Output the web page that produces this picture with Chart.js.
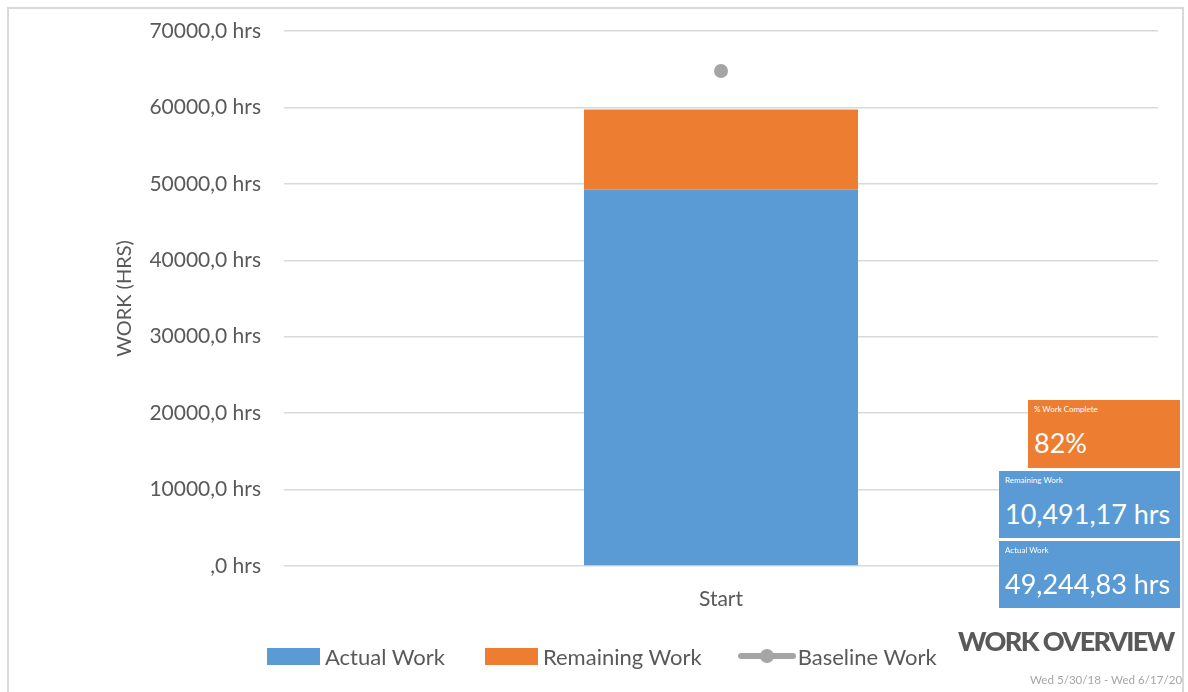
<!DOCTYPE html>
<html>
<head>
<meta charset="utf-8">
<title>Work Overview</title>
<script src="https://cdn.jsdelivr.net/npm/chart.js@4"></script>
<style>
    html, body { margin: 0; padding: 0; background: #fff; }
    body { width: 1188px; height: 692px; position: relative; overflow: hidden; font-family: Lato, "Open Sans", sans-serif; }
    #frame { position: absolute; left: 7px; top: 7px; width: 1177px; height: 700px; border: 2px solid #D9D9D9; box-sizing: border-box; }
    #wrap { position: absolute; left: 0; top: 0; width: 1188px; height: 692px; }
    .legend { position: absolute; top: 644px; left: 267px; height: 24px; display: flex; align-items: center; font-size: 22px; color: #595959; white-space: nowrap; }
    .legend .item { display: flex; align-items: center; }
    .legend .box { width: 53px; height: 17px; margin-right: 5px; }
    .legend .lineMark { position: relative; width: 58px; height: 14px; margin-right: 2px; }
    .legend .lineMark .bar { position: absolute; left: 0; top: 4px; width: 58px; height: 6px; background: #A5A5A5; border-radius: 3px; }
    .legend .lineMark .dot { position: absolute; left: 22px; top: 0; width: 14px; height: 14px; border-radius: 50%; background: #A5A5A5; }
    .card { position: absolute; color: #fff; box-sizing: border-box; padding: 4px 6px; white-space: nowrap; overflow: hidden; }
    .card .cap { font-size: 8px; line-height: 10px; }
    .card .val { font-size: 27px; line-height: 34px; margin-top: 12px; }
    #heading { position: absolute; left: 958px; top: 624px; font-size: 27px; font-weight: 900; color: #595959; letter-spacing: -1.6px; white-space: nowrap; }
    #dates { position: absolute; left: 1030px; top: 673px; font-size: 11.6px; color: #A6A6A6; white-space: nowrap; }
</style>
</head>
<body>
<div id="frame"></div>
<div id="wrap"><canvas id="workChart" width="1188" height="692"></canvas></div>

<div class="legend">
    <div class="item" style="margin-right:40px"><span class="box" style="background:#5B9BD5"></span>Actual Work</div>
    <div class="item" style="margin-right:36px"><span class="box" style="background:#ED7D31"></span>Remaining Work</div>
    <div class="item"><span class="lineMark"><span class="bar"></span><span class="dot"></span></span>Baseline Work</div>
</div>

<div class="card" style="left:1028px;top:400px;width:152px;height:68px;background:#ED7D31">
    <div class="cap">% Work Complete</div>
    <div class="val" id="pctVal"></div>
</div>
<div class="card" style="left:999px;top:471px;width:181px;height:67px;background:#5B9BD5">
    <div class="cap">Remaining Work</div>
    <div class="val" id="remainVal"></div>
</div>
<div class="card" style="left:999px;top:541px;width:181px;height:67px;background:#5B9BD5">
    <div class="cap">Actual Work</div>
    <div class="val" id="actualVal"></div>
</div>
<div id="heading">WORK OVERVIEW</div>
<div id="dates">Wed 5/30/18 - Wed 6/17/20</div>

<script>
// work data (hours)
const categories = ['Start'];
const actualWork = [49244.83];
const remainingWork = [10491.17];
const baselineWork = [64760];
const yTicks = [0, 10000, 20000, 30000, 40000, 50000, 60000, 70000];

const textColor = '#595959';
const gridColor = '#D9D9D9';

// 12345.67 -> "12,345,67"
function fmtHours(v) {
    const parts = v.toFixed(2).split('.');
    return parts[0].replace(/\B(?=(\d{3})+(?!\d))/g, ',') + ',' + parts[1];
}

// axis labels like "70000,0 hrs" and ",0 hrs"
function axisLabel(v) {
    return (v === 0 ? '' : String(v)) + ',0 hrs';
}

const totalAct = actualWork.reduce((a, b) => a + b, 0);
const totalRem = remainingWork.reduce((a, b) => a + b, 0);
document.getElementById('pctVal').textContent = Math.round(totalAct / (totalAct + totalRem) * 100) + '%';
document.getElementById('remainVal').textContent = fmtHours(totalRem) + ' hrs';
document.getElementById('actualVal').textContent = fmtHours(totalAct) + ' hrs';

const ctx = document.getElementById('workChart');
new Chart(ctx, {
    type: 'bar',
    data: {
        labels: categories,
        datasets: [
            {
                label: 'Actual Work',
                data: actualWork,
                backgroundColor: '#5B9BD5',
                stack: 'work',
                order: 2
            },
            {
                label: 'Remaining Work',
                data: remainingWork,
                backgroundColor: '#ED7D31',
                stack: 'work',
                order: 2
            },
            {
                type: 'line',
                label: 'Baseline Work',
                data: baselineWork,
                stack: 'baseline',
                showLine: false,
                pointRadius: 7,
                pointBackgroundColor: '#A5A5A5',
                pointBorderWidth: 0,
                borderColor: '#A5A5A5',
                order: 1
            }
        ]
    },
    options: {
        responsive: false,
        animation: false,
        layout: { padding: { top: 31, left: 113, right: 30, bottom: 0 } },
        datasets: {
            bar: { categoryPercentage: 1, barPercentage: 0.3135 }
        },
        plugins: {
            legend: { display: false },
            tooltip: { enabled: false }
        },
        scales: {
            x: {
                stacked: true,
                grid: { display: false },
                border: { display: false },
                ticks: { color: textColor, padding: 13, font: { family: 'Lato', size: 21 } },
                afterFit: (scale) => { scale.height = 126; }
            },
            y: {
                stacked: true,
                min: 0,
                max: 70000,
                afterBuildTicks: (scale) => { scale.ticks = yTicks.map(v => ({ value: v })); },
                grid: { color: gridColor, lineWidth: 1.5, drawTicks: false },
                border: { display: false },
                ticks: {
                    color: textColor,
                    padding: 23,
                    font: { family: 'Lato', size: 21 },
                    callback: (v) => axisLabel(v)
                },
                title: {
                    display: true,
                    text: 'WORK (HRS)',
                    color: textColor,
                    padding: 0,
                    font: { family: 'Lato', size: 20 }
                },
                afterFit: (scale) => {
                    scale.width = 171;
                    scale.paddingTop = 0;
                    scale.paddingBottom = 0;
                }
            }
        }
    }
});
</script>
</body>
</html>
